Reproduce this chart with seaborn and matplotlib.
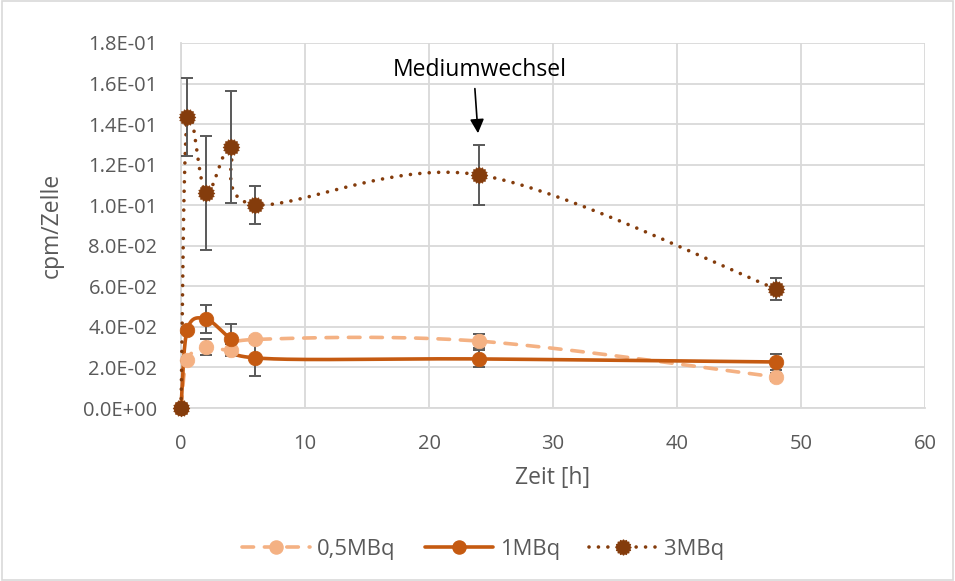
import numpy as np
import pandas as pd
import matplotlib
matplotlib.use("Agg")
import matplotlib.pyplot as plt
from matplotlib.lines import Line2D
from matplotlib.path import Path
from matplotlib.patches import Rectangle
from matplotlib.ticker import FuncFormatter, MultipleLocator
import seaborn as sns

# Measured uptake per cell over time, three activity levels
time_h = [0, 0.5, 2, 4, 6, 24, 48]
series_names = ["0,5MBq", "1MBq", "3MBq"]
cpm_05 = [0.0, 0.0237, 0.0301, 0.0286, 0.0338, 0.0330, 0.0153]
err_05 = [0.0, 0.0015, 0.0040, 0.0030, 0.0015, 0.0035, 0.0020]
cpm_1 = [0.0, 0.0385, 0.0439, 0.0340, 0.0247, 0.0242, 0.0227]
err_1 = [0.0, 0.0015, 0.0068, 0.0074, 0.0089, 0.0042, 0.0040]
cpm_3 = [0.0, 0.1433, 0.1060, 0.1288, 0.1003, 0.1150, 0.0587]
err_3 = [0.0, 0.0192, 0.0283, 0.0275, 0.0094, 0.0147, 0.0056]

annotation_text = "Mediumwechsel"
annotation_time = 24

colors = ["#F4B183", "#C55A11", "#843C0C"]
err_color = "#595959"
text_color = "#595959"
grid_color = "#D9D9D9"

sns.set_theme(style="white")
plt.rcParams["font.family"] = ["Open Sans", "DejaVu Sans"]

fig = plt.figure(figsize=(9.55, 5.81), dpi=100)
ax = fig.add_axes([181 / 955, 1 - 408 / 581, (925 - 181) / 955, (408 - 43) / 581])

xlim = (0, 60)
ylim = (0, 0.18)
ax.set_xlim(*xlim)
ax.set_ylim(*ylim)

# scale factors so the smoothing works in (approximate) screen space
sx = (xlim[1] - xlim[0]) / 744.0
sy = (ylim[1] - ylim[0]) / 365.0


def smooth_curve(xs, ys, n=40):
    p = np.column_stack([np.asarray(xs, float) / sx, np.asarray(ys, float) / sy])
    segs = []
    for i in range(len(p) - 1):
        p0 = p[i - 1] if i > 0 else p[i]
        p1 = p[i]
        p2 = p[i + 1]
        p3 = p[i + 2] if i + 2 < len(p) else p[i + 1]
        c1 = p1 + (p2 - p0) / 6.0
        c2 = p2 - (p3 - p1) / 6.0
        t = np.linspace(0, 1, n)[:, None]
        seg = ((1 - t) ** 3) * p1 + 3 * ((1 - t) ** 2) * t * c1 + 3 * (1 - t) * t ** 2 * c2 + t ** 3 * p2
        segs.append(seg if i == 0 else seg[1:])
    arr = np.vstack(segs)
    return arr[:, 0] * sx, arr[:, 1] * sy


# jagged round marker used for the 3MBq series
npts = 32
ang = np.linspace(0, 2 * np.pi, npts, endpoint=False) + np.pi / 2
rad = np.where(np.arange(npts) % 2 == 0, 1.0, 0.82)
verts = np.column_stack([rad * np.cos(ang), rad * np.sin(ang)])
verts = np.vstack([verts, verts[:1]])
codes = [Path.MOVETO] + [Path.LINETO] * (npts - 1) + [Path.CLOSEPOLY]
jag_marker = Path(verts, codes)

values = [cpm_05, cpm_1, cpm_3]
errors = [err_05, err_1, err_3]
styles = [
    dict(linestyle=(0, (3.2, 3.0)), dash_capstyle="round", linewidth=2.6),
    dict(linestyle="-", linewidth=2.6),
    dict(linestyle=(0, (0.01, 2.6)), dash_capstyle="round", linewidth=2.6),
]
markers = ["o", "o", jag_marker]
msizes = [10.5, 10.5, 12]

for name, vals, errs, col, st, mk, ms in zip(series_names, values, errors, colors, styles, markers, msizes):
    xs_s, ys_s = smooth_curve(time_h, vals)
    sdf = pd.DataFrame({"t": xs_s, "v": ys_s})
    sns.lineplot(data=sdf, x="t", y="v", ax=ax, sort=False, estimator=None,
                 color=col, zorder=3, clip_on=False, **st)
    ax.errorbar(time_h, vals, yerr=errs, fmt="none", ecolor=err_color,
                elinewidth=1.4, capsize=4.3, capthick=1.4, zorder=4)
    pdf = pd.DataFrame({"t": time_h, "v": vals})
    sns.scatterplot(data=pdf, x="t", y="v", ax=ax, marker=mk, s=ms ** 2,
                    color=col, edgecolor=col, linewidth=0.5, zorder=5, clip_on=False)

# grid and axes
ax.xaxis.set_major_locator(MultipleLocator(10))
ax.yaxis.set_major_locator(MultipleLocator(0.02))
ax.grid(True, color=grid_color, linewidth=1.3)
ax.set_axisbelow(True)
for side in ["top", "right"]:
    ax.spines[side].set_visible(False)
for side in ["left", "bottom"]:
    ax.spines[side].set_color(grid_color)
    ax.spines[side].set_linewidth(1.3)
ax.yaxis.set_major_formatter(FuncFormatter(lambda v, p: f"{v:.1E}"))
ax.tick_params(axis="both", length=0, labelsize=14.5, colors=text_color)
ax.tick_params(axis="y", pad=17)
ax.tick_params(axis="x", pad=19)

ax.set_xlabel("Zeit [h]", fontsize=16.5, color=text_color, labelpad=8)
ax.set_ylabel("cpm/Zelle", fontsize=16.5, color=text_color, labelpad=14)

# annotation for the medium change
ax.text(annotation_time + 0.1, 0.1665, annotation_text, ha="center", va="center",
        fontsize=16.5, color="black")
ax.annotate("", xy=(annotation_time - 0.05, 0.1355), xytext=(annotation_time - 0.3, 0.1575),
            arrowprops=dict(arrowstyle="-|>,head_length=0.7,head_width=0.35",
                            color="black", lw=1.2, shrinkA=0, shrinkB=0))

# legend
handles = []
for col, st, mk, ms in zip(colors, styles, markers, msizes):
    h = Line2D([0], [0], color=col, marker=mk, markersize=ms * 0.9,
               markerfacecolor=col, markeredgecolor=col, **st)
    handles.append(h)
fig.legend(handles, series_names, loc="center", bbox_to_anchor=(0.506, 0.055),
           ncol=3, frameon=False, fontsize=15.8, handlelength=3.1,
           columnspacing=1.35, handletextpad=0.3, labelcolor=text_color)

# chart border
fig.patches.append(Rectangle((0.002, 0.002), 0.996, 0.996, transform=fig.transFigure,
                             fill=False, edgecolor="#D9D9D9", linewidth=1.2))

fig.savefig("out.png", dpi=100)
